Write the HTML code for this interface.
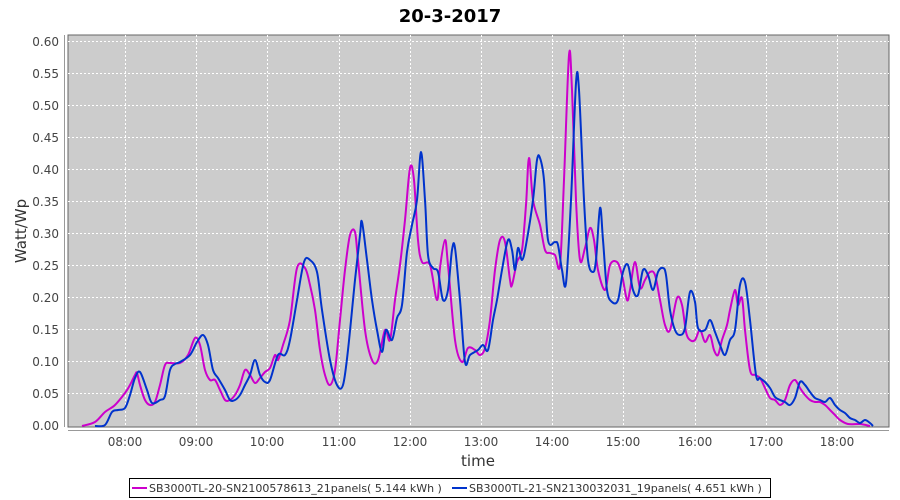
<!DOCTYPE html><html><head><meta charset="utf-8"><style>body{margin:0;background:#fff}svg{display:block;font-family:"DejaVu Sans","Liberation Sans",sans-serif}</style></head><body>
<svg width="900" height="500" xmlns="http://www.w3.org/2000/svg">
<text x="450" y="22" text-anchor="middle" font-size="18" font-weight="bold">20-3-2017</text>
<rect x="68" y="35" width="821" height="392" fill="#cccccc" stroke="#666" stroke-width="1"/>
<g stroke="#fff" stroke-dasharray="2,2" stroke-width="1">
<line x1="68" x2="889" y1="41.5" y2="41.5"/><line x1="68" x2="889" y1="73.5" y2="73.5"/><line x1="68" x2="889" y1="105.5" y2="105.5"/><line x1="68" x2="889" y1="137.5" y2="137.5"/><line x1="68" x2="889" y1="169.5" y2="169.5"/><line x1="68" x2="889" y1="201.5" y2="201.5"/><line x1="68" x2="889" y1="233.5" y2="233.5"/><line x1="68" x2="889" y1="265.5" y2="265.5"/><line x1="68" x2="889" y1="297.5" y2="297.5"/><line x1="68" x2="889" y1="329.5" y2="329.5"/><line x1="68" x2="889" y1="361.5" y2="361.5"/><line x1="68" x2="889" y1="393.5" y2="393.5"/>
<line y1="35" y2="427" x1="125.5" x2="125.5"/><line y1="35" y2="427" x1="196.5" x2="196.5"/><line y1="35" y2="427" x1="267.5" x2="267.5"/><line y1="35" y2="427" x1="339.5" x2="339.5"/><line y1="35" y2="427" x1="410.5" x2="410.5"/><line y1="35" y2="427" x1="481.5" x2="481.5"/><line y1="35" y2="427" x1="552.5" x2="552.5"/><line y1="35" y2="427" x1="623.5" x2="623.5"/><line y1="35" y2="427" x1="695.5" x2="695.5"/><line y1="35" y2="427" x1="766.5" x2="766.5"/><line y1="35" y2="427" x1="837.5" x2="837.5"/>
</g>
<g stroke="#999" stroke-width="1"><line x1="64.5" x2="64.5" y1="35" y2="427"/><line x1="68" x2="889" y1="430.5" y2="430.5"/></g>
<g font-size="12" fill="#444" text-anchor="end">
<text x="59" y="46">0.60</text><text x="59" y="78">0.55</text><text x="59" y="110">0.50</text><text x="59" y="142">0.45</text><text x="59" y="174">0.40</text><text x="59" y="206">0.35</text><text x="59" y="238">0.30</text><text x="59" y="270">0.25</text><text x="59" y="302">0.20</text><text x="59" y="334">0.15</text><text x="59" y="366">0.10</text><text x="59" y="398">0.05</text><text x="59" y="430">0.00</text>
</g>
<g font-size="12" fill="#444" text-anchor="middle">
<text x="125" y="446">08:00</text><text x="196" y="446">09:00</text><text x="267" y="446">10:00</text><text x="339" y="446">11:00</text><text x="410" y="446">12:00</text><text x="481" y="446">13:00</text><text x="552" y="446">14:00</text><text x="623" y="446">15:00</text><text x="695" y="446">16:00</text><text x="766" y="446">17:00</text><text x="837" y="446">18:00</text>
</g>
<text x="478" y="466" text-anchor="middle" font-size="15" fill="#333">time</text>
<text transform="translate(26,231) rotate(-90)" text-anchor="middle" font-size="15" fill="#333">Watt/Wp</text>
<polyline class="s" fill="none" stroke="#cc00cc" stroke-width="2" stroke-linejoin="round" points="82,426 95,422 105,412 115,405 125,393 130,385 135,375 137,373 140,385 145,400 150,405 155,402 160,385 165,365 170,363 180,363 188,355 195,338 200,345 205,370 210,380 215,380 220,390 225,400 230,400 235,395 240,385 245,370 250,375 255,383 260,378 265,372 270,368 275,355 278,360 283,345 290,320 297,268 305,268 310,285 315,310 320,350 325,375 330,385 335,370 340,320 345,270 350,235 355,232 358,260 365,330 372,360 378,360 385,330 390,340 395,300 400,265 405,220 410,168 414,180 418,240 422,262 430,265 437,300 440,268 445,240 448,265 455,340 462,362 468,348 475,350 480,355 485,348 490,320 495,270 500,240 505,242 510,280 512,285 517,262 522,250 526,205 529,158 533,200 540,225 545,250 550,253 555,255 560,265 564,180 569,55 572,90 576,200 580,260 585,248 590,228 594,240 598,270 605,290 610,265 617,262 622,275 627,300 630,290 635,262 640,288 645,280 650,272 655,275 660,300 665,325 670,330 677,298 682,305 686,332 690,340 695,340 700,330 705,342 710,335 714,350 718,355 722,340 727,325 730,310 735,290 738,305 742,298 745,330 750,370 755,375 760,378 765,388 770,398 775,400 780,405 785,400 790,385 795,380 800,388 805,395 810,400 815,402 820,402 825,405 830,410 835,415 840,420 848,424 860,424 870,426"/>
<polyline class="s" fill="none" stroke="#0033cc" stroke-width="2" stroke-linejoin="round" points="95,426 105,425 112,412 118,410 125,408 130,395 135,378 140,372 147,390 152,403 160,400 165,396 170,370 175,364 180,362 190,355 197,342 203,335 208,345 213,370 218,378 225,390 230,400 235,400 240,395 245,385 250,375 255,360 260,375 265,382 270,380 278,355 285,355 290,340 297,300 304,262 310,260 317,272 322,310 330,360 337,385 343,385 348,350 355,280 360,235 362,222 367,260 372,300 377,330 382,352 386,330 392,340 397,318 402,305 407,252 412,225 417,200 421,152 425,200 428,255 433,268 438,272 443,300 448,290 452,250 455,248 460,300 465,362 470,355 478,350 483,345 488,350 493,320 497,300 502,270 508,240 512,250 515,270 518,248 522,260 526,245 533,200 537,160 540,158 544,180 548,240 555,242 558,245 562,270 566,283 571,200 576,83 579,90 584,200 588,260 593,272 596,260 600,208 603,240 607,290 612,302 618,300 623,272 628,265 633,290 638,295 643,270 648,275 653,290 658,272 663,268 666,275 670,310 675,330 680,335 685,328 690,292 695,302 698,328 705,330 710,320 715,332 720,345 725,355 730,340 735,330 740,285 745,282 750,320 756,375 760,378 765,382 770,388 775,397 780,400 785,402 790,405 795,398 800,382 805,385 810,392 815,398 820,400 825,402 830,398 835,405 840,410 845,413 850,418 855,420 860,423 865,420 870,423 873,426"/>
<rect x="129.5" y="478.5" width="641" height="19" fill="#fff" stroke="#000"/>
<line x1="132" x2="147" y1="488" y2="488" stroke="#cc00cc" stroke-width="2"/>
<text x="149" y="492" font-size="11" fill="#333">SB3000TL-20-SN2100578613_21panels( 5.144 kWh )</text>
<line x1="452" x2="467" y1="488" y2="488" stroke="#0033cc" stroke-width="2"/>
<text x="469" y="492" font-size="11" fill="#333">SB3000TL-21-SN2130032031_19panels( 4.651 kWh )</text>
</svg>
<script>
document.querySelectorAll('polyline.s').forEach(function(pl){
var p=pl.getAttribute('points').trim().split(/\s+/).map(function(s){return s.split(',').map(Number);});
var d='M'+p[0][0]+','+p[0][1];
for(var i=0;i<p.length-1;i++){var a=p[Math.max(0,i-1)],b=p[i],c=p[i+1],e=p[Math.min(p.length-1,i+2)];
var c1x=b[0]+(c[0]-a[0])/6,c1y=b[1]+(c[1]-a[1])/6,c2x=c[0]-(e[0]-b[0])/6,c2y=c[1]-(e[1]-b[1])/6;
d+=' C'+c1x.toFixed(1)+','+c1y.toFixed(1)+' '+c2x.toFixed(1)+','+c2y.toFixed(1)+' '+c[0]+','+c[1];}
var path=document.createElementNS('http://www.w3.org/2000/svg','path');
path.setAttribute('d',d);path.setAttribute('fill','none');path.setAttribute('stroke',pl.getAttribute('stroke'));path.setAttribute('stroke-width','2');path.setAttribute('stroke-linejoin','round');
pl.parentNode.replaceChild(path,pl);});
</script>
</body></html>
